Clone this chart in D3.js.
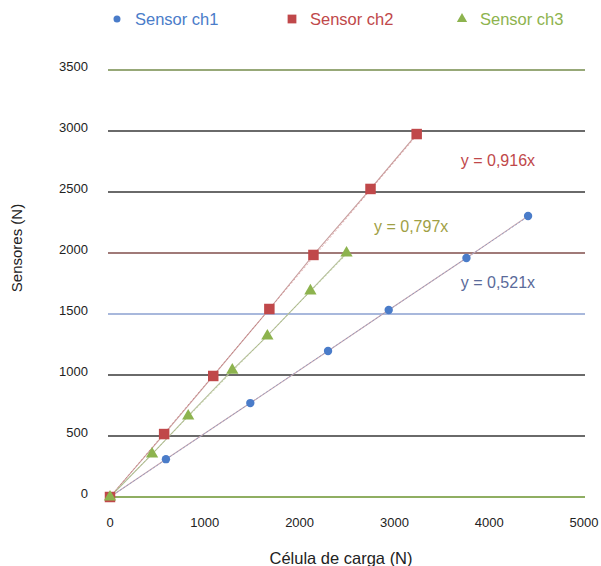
<!DOCTYPE html>
<html><head><meta charset="utf-8">
<script src="https://cdn.jsdelivr.net/npm/d3@7"></script>
<style>body{margin:0;background:#fff}svg{display:block;font-family:"Liberation Sans",Arial,sans-serif}</style>
</head><body><svg id="c" width="601" height="566"></svg>
<script>
const seriesNames = ["Sensor ch1","Sensor ch2","Sensor ch3"];
const ch1X = [0, 590, 1480, 2300, 2940, 3760, 4410];
const ch1Y = [0, 310, 770, 1197, 1533, 1959, 2303];
const ch2X = [0, 571, 1089, 1681, 2146, 2748, 3235];
const ch2Y = [0, 516, 992, 1541, 1984, 2525, 2975];
const ch3X = [0, 444, 825, 1290, 1660, 2114, 2495];
const ch3Y = [0, 352, 664, 1040, 1320, 1689, 2000];
const slopes = [0.521, 0.916, 0.797];
const equations = ["y = 0,521x","y = 0,916x","y = 0,797x"];
const eqPos = [[3700,1710],[3700,2710],[2785,2170]];
const xTicks = [0,1000,2000,3000,4000,5000];
const yTicks = [0,500,1000,1500,2000,2500,3000,3500];
const gridColors = ["#8fae62","#6a6a6a","#6a6a6a","#a8b8dc","#a07a78","#6a6a6a","#6a6a6a","#97a878"];
const colors = ["#4a7cc9","#c0484a","#8db34e"];
const eqColors = ["#5a6a9a","#c0484a","#a0a045"];
const lineColors = ["#c8a8b0","#c8a0a0","#b8c0a0"];
const xTitle = "Célula de carga (N)";
const yTitle = "Sensores (N)";

const svg = d3.select("#c");
const x = d3.scaleLinear().domain([0,5000]).range([110,584]);
const y = d3.scaleLinear().domain([0,3500]).range([497,70]);

svg.append("g").selectAll("line").data(yTicks).join("line")
  .attr("x1",108).attr("x2",585).attr("y1",d=>y(d)).attr("y2",d=>y(d))
  .attr("stroke",(d,i)=>gridColors[i]).attr("stroke-width",1.8);

svg.append("g").selectAll("text").data(yTicks).join("text")
  .attr("x",88).attr("y",d=>y(d)+1).attr("text-anchor","end")
  .attr("font-size",13).attr("fill","#222").text(d=>d);

svg.append("g").selectAll("text").data(xTicks).join("text")
  .attr("x",d=>x(d)).attr("y",527).attr("text-anchor","middle")
  .attr("font-size",13).attr("fill","#222").text(d=>d);

svg.append("text").attr("x",341).attr("y",564).attr("text-anchor","middle")
  .attr("font-size",16.5).attr("fill","#222").text(xTitle);
svg.append("text").attr("transform","translate(22,248) rotate(-90)").attr("text-anchor","middle")
  .attr("font-size",15).attr("fill","#222").text(yTitle);

const data = [[ch1X,ch1Y],[ch2X,ch2Y],[ch3X,ch3Y]].map(([xs,ys])=>xs.map((v,i)=>[v,ys[i]]));

const line = d3.line().x(d=>x(d[0])).y(d=>y(d[1]));
data.forEach((pts,i)=>{
  svg.append("path").attr("d",line(pts)).attr("fill","none")
    .attr("stroke",lineColors[i]).attr("stroke-width",1.1);
  const mx = d3.max(pts,d=>d[0]);
  svg.append("path").attr("d",line([[0,0],[mx,mx*slopes[i]]])).attr("fill","none")
    .attr("stroke",colors[i]).attr("stroke-width",0.7).attr("stroke-dasharray","2,2").attr("opacity",0.6);
});

const shapes = [d3.symbolCircle, d3.symbolSquare, d3.symbolTriangle];
const sizes = [55, 110, 65];
data.forEach((pts,i)=>{
  svg.append("g").selectAll("path").data(pts).join("path")
    .attr("transform",d=>`translate(${x(d[0])},${y(d[1])})`)
    .attr("d",d3.symbol().type(shapes[i]).size(sizes[i]))
    .attr("fill",colors[i]);
});

equations.forEach((t,i)=>{
  svg.append("text").attr("x",x(eqPos[i][0])).attr("y",y(eqPos[i][1]))
    .attr("font-size",16).attr("fill",eqColors[i]).text(t);
});

const legX = [117,292,462];
seriesNames.forEach((n,i)=>{
  svg.append("path").attr("transform",`translate(${legX[i]},19)`)
    .attr("d",d3.symbol().type(shapes[i]).size(sizes[i]*0.7)).attr("fill",colors[i]);
  svg.append("text").attr("x",legX[i]+18).attr("y",25).attr("font-size",16.5)
    .attr("fill",colors[i]).text(n);
});
</script></body></html>
